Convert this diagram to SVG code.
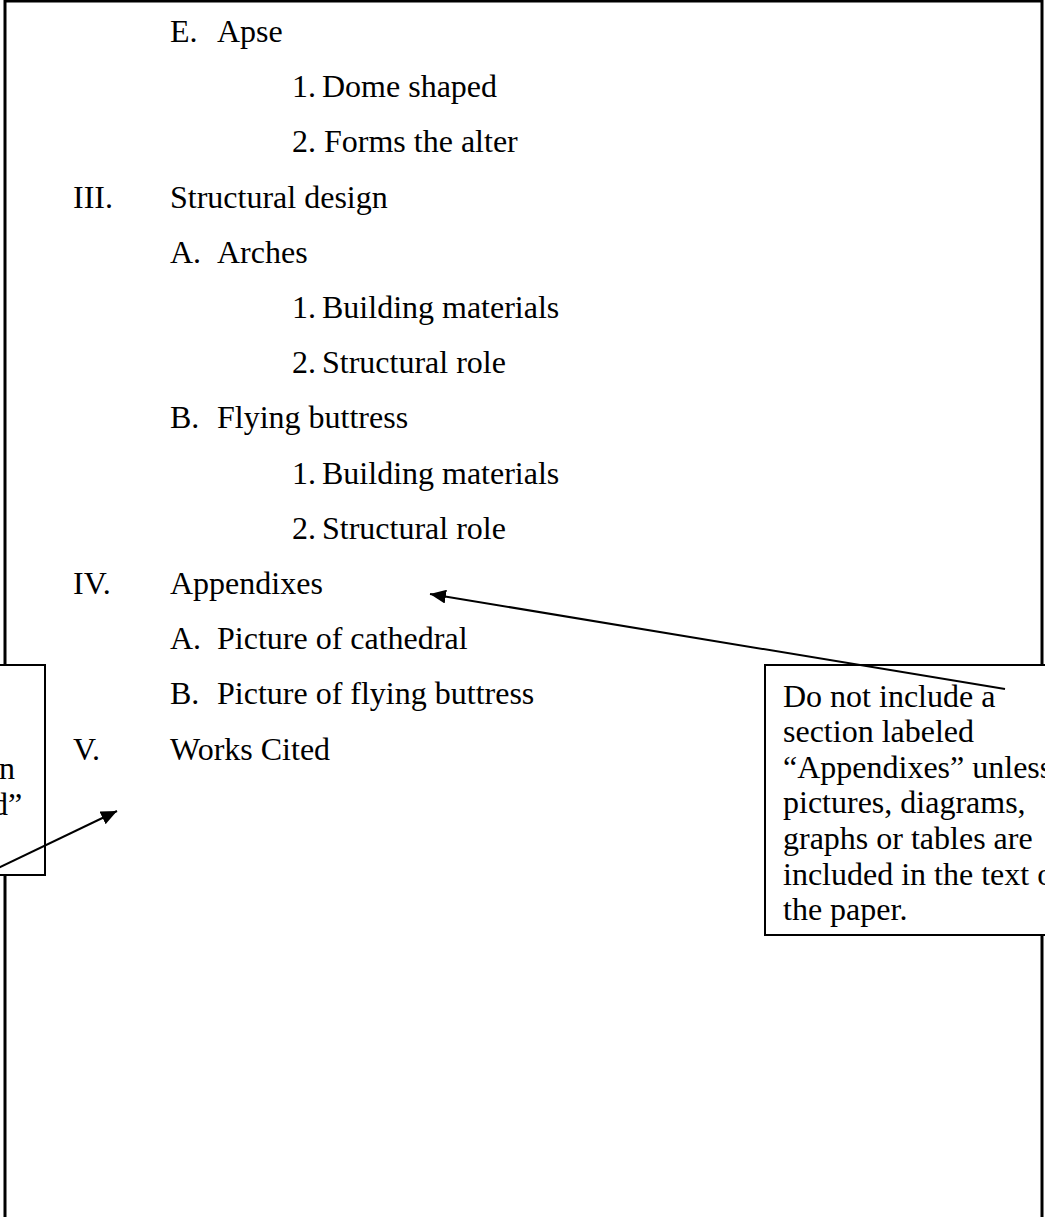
<svg xmlns="http://www.w3.org/2000/svg" width="1045" height="1217" viewBox="0 0 1045 1217">
<style>
text{font-family:"Liberation Serif","Times New Roman",serif;font-size:32px;fill:#000}
.page{fill:none;stroke:#000;stroke-width:3}
.box{fill:#fff;stroke:#000;stroke-width:2}
.conn{stroke:#000;stroke-width:2;fill:none}
</style>
<defs>
<marker id="ah" viewBox="0 0 16 14" refX="16" refY="7" markerWidth="16" markerHeight="14" markerUnits="userSpaceOnUse" orient="auto">
<path d="M0,0 L16,7 L0,14 z" fill="#000"/>
</marker>
</defs>
<rect class="page" x="5" y="1" width="1037" height="1240"/>
<g id="outline">
<text x="170" y="42">E.</text><text x="217" y="42">Apse</text>
<text x="292" y="97">1.</text><text x="322" y="97">Dome shaped</text>
<text x="292" y="152">2.</text><text x="324" y="152">Forms the alter</text>
<text x="73" y="208">III.</text><text x="170" y="208">Structural design</text>
<text x="170" y="263">A.</text><text x="217" y="263">Arches</text>
<text x="292" y="318">1.</text><text x="322" y="318">Building materials</text>
<text x="292" y="373">2.</text><text x="322" y="373">Structural role</text>
<text x="170" y="428">B.</text><text x="217" y="428">Flying buttress</text>
<text x="292" y="484">1.</text><text x="322" y="484">Building materials</text>
<text x="292" y="539">2.</text><text x="322" y="539">Structural role</text>
<text x="73" y="594">IV.</text><text x="170" y="594">Appendixes</text>
<text x="170" y="649">A.</text><text x="217" y="649">Picture of cathedral</text>
<text x="170" y="704">B.</text><text x="217" y="704">Picture of flying buttress</text>
<text x="73" y="760">V.</text><text x="170" y="760">Works Cited</text>
</g>
<g id="note-left">
<rect class="box" x="-10" y="665" width="55" height="210"/>
<text x="-1" y="779">n</text>
<text x="-8" y="815">d”</text>
</g>
<g id="note-right">
<rect class="box" x="765" y="665" width="300" height="270"/>
<text x="783" y="707">Do not include a</text>
<text x="783" y="742">section labeled</text>
<text x="783" y="778">“Appendixes” unless</text>
<text x="783" y="813">pictures, diagrams,</text>
<text x="783" y="849">graphs or tables are</text>
<text x="783" y="885">included in the text of</text>
<text x="783" y="920">the paper.</text>
</g>
<g id="connectors">
<line class="conn" x1="1005" y1="689" x2="430" y2="594" marker-end="url(#ah)"/>
<line class="conn" x1="-10" y1="872" x2="117" y2="811" marker-end="url(#ah)"/>
</g>
</svg>
